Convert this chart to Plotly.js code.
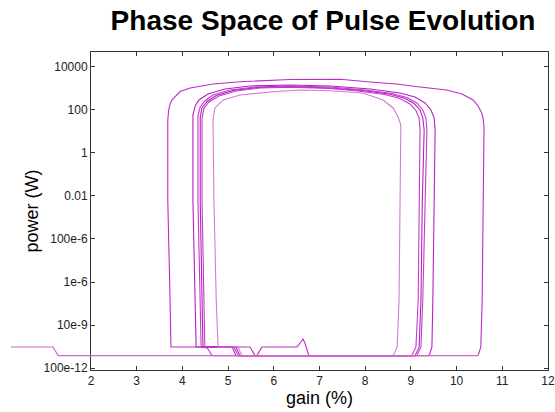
<!DOCTYPE html>
<html>
<head>
<meta charset="utf-8">
<script src="https://cdn.plot.ly/plotly-3.0.1.min.js"></script>
<style>html,body{margin:0;padding:0;background:#fff;}#chart{width:555px;height:412px;}</style>
</head>
<body>
<div id="chart"></div>
<script>
// Initial segment (starts left of the plotted gain range)
const initGain  = [0.25, 1.17, 1.28, 10.47];
const initPower = [9.6e-10, 9.6e-10, 3.8e-10, 3.8e-10];

// Cycle 1 (outermost loop)
const cycle1Gain  = [10.47, 10.53, 10.56, 10.58, 10.60, 10.58, 10.55, 10.47, 10.36, 10.12, 9.78, 9.20, 8.69, 8.11, 7.45, 6.35, 5.26, 4.67, 4.17, 3.95, 3.88, 3.77, 3.73, 3.70, 3.68, 3.68, 3.73, 3.75, 5.48, 5.59, 5.63, 5.74, 6.51, 6.64, 6.68, 6.77, 9.40];
const cycle1Power = [3.8e-10, 9.6e-10, 1.46e-7, 6.4e-3, 15.8, 41, 71, 150, 284, 540, 828, 1140, 1570, 1946, 2600, 2540, 2010, 1570, 1026, 705, 485, 284, 185, 97.5, 33, 6.4e-3, 1.46e-7, 9.6e-10, 9.6e-10, 3.8e-10, 3.8e-10, 9.6e-10, 9.6e-10, 2.25e-9, 1.47e-9, 3.8e-10, 3.8e-10];

// Cycle 2
const cycle2Gain  = [9.40, 9.46, 9.48, 9.51, 9.53, 9.51, 9.44, 9.31, 9.09, 8.76, 8.11, 7.23, 6.35, 5.48, 4.93, 4.56, 4.36, 4.28, 4.23, 4.23, 4.28, 4.30, 5.09, 5.17, 9.13];
const cycle2Power = [3.8e-10, 9.6e-10, 1.46e-7, 6.4e-3, 11.5, 41, 97.5, 206, 392, 600, 920, 1270, 1413, 1270, 920, 540, 284, 150, 57, 6.4e-3, 1.46e-7, 9.6e-10, 9.6e-10, 3.8e-10, 3.8e-10];

// Cycle 3
const cycle3Gain  = [9.13, 9.22, 9.26, 9.31, 9.35, 9.33, 9.26, 9.13, 8.91, 8.59, 8.00, 7.23, 6.35, 5.59, 5.04, 4.67, 4.49, 4.39, 4.34, 4.34, 4.39, 4.41, 5.13, 5.22, 9.09];
const cycle3Power = [3.8e-10, 9.6e-10, 1.46e-7, 6.4e-3, 11.5, 41, 97.5, 206, 371, 569, 828, 1140, 1270, 1140, 828, 485, 255, 134, 51, 6.4e-3, 1.46e-7, 9.6e-10, 9.6e-10, 3.8e-10, 3.8e-10];

// Cycle 4
const cycle4Gain  = [9.09, 9.18, 9.22, 9.25, 9.29, 9.26, 9.20, 9.07, 8.85, 8.52, 7.93, 7.23, 6.35, 5.65, 5.11, 4.74, 4.54, 4.43, 4.39, 4.39, 4.43, 4.45, 5.17, 5.26, 9.02];
const cycle4Power = [3.8e-10, 9.6e-10, 1.46e-7, 6.4e-3, 11.5, 41, 97.5, 195, 352, 540, 785, 1026, 1178, 1081, 785, 460, 242, 121, 46, 6.4e-3, 1.46e-7, 9.6e-10, 9.6e-10, 3.8e-10, 3.8e-10];

// Cycle 5
const cycle5Gain  = [9.02, 9.11, 9.16, 9.18, 9.20, 9.18, 9.11, 8.98, 8.76, 8.43, 7.84, 7.23, 6.35, 5.70, 5.17, 4.80, 4.58, 4.47, 4.43, 4.43, 4.47, 4.49, 4.56, 4.65, 8.61];
const cycle5Power = [3.8e-10, 9.6e-10, 1.46e-7, 6.4e-3, 11.5, 41, 92.5, 185, 333, 512, 743, 970, 1104, 1026, 743, 436, 229, 115, 41, 6.4e-3, 1.46e-7, 9.6e-10, 7.7e-10, 3.8e-10, 3.8e-10];

// Cycle 6 (innermost loop)
const cycle6Gain  = [8.61, 8.70, 8.74, 8.76, 8.78, 8.72, 8.61, 8.39, 7.95, 7.23, 6.57, 5.98, 5.26, 4.89, 4.71, 4.67, 4.69, 4.74, 4.78, 5.22, 5.30, 8.26];
const cycle6Power = [3.8e-10, 9.6e-10, 1.46e-7, 6.4e-3, 19.6, 46, 121, 284, 600, 767, 828, 690, 485, 284, 121, 33, 6.4e-3, 1.46e-7, 9.6e-10, 9.6e-10, 3.8e-10, 3.8e-10];

const yTickVals = [1e4, 100, 1, 0.01, 1e-4, 1e-6, 1e-8, 1e-10];
const yTickText = ['10000', '100', '1', '0.01', '100e-6', '1e-6', '10e-9', '100e-12'];
const xTickVals = [2, 3, 4, 5, 6, 7, 8, 9, 10, 11, 12];

const cycles = [
  [cycle1Gain, cycle1Power, '#bb2cc6'],
  [cycle2Gain, cycle2Power, '#b520c2'],
  [cycle3Gain, cycle3Power, '#c23ccb'],
  [cycle4Gain, cycle4Power, '#b520c2'],
  [cycle5Gain, cycle5Power, '#c23ccb'],
  [cycle6Gain, cycle6Power, '#d479d8']
];

const traces = [{
  x: initGain, y: initPower, xaxis: 'x2', yaxis: 'y',
  mode: 'lines', line: {color: '#cc66d0', width: 1.2}, showlegend: false, hoverinfo: 'skip'
}];
cycles.forEach(c => traces.push({
  x: c[0], y: c[1], xaxis: 'x', yaxis: 'y',
  mode: 'lines', line: {color: c[2], width: 1.1}, showlegend: false, hoverinfo: 'skip'
}));

// geometry: plot area from px 91 to 548 horizontally (paper from 5 to 548)
const leftMargin = 5, rightMargin = 7, plotLeft = 91;
const paperW = 555 - leftMargin - rightMargin;
const d0 = (plotLeft - leftMargin) / paperW;
const pxPerUnit = (paperW * (1 - d0)) / 10;
const x2min = 2 - (plotLeft - leftMargin) / pxPerUnit;

const axisFont = {family: 'Arial, "Liberation Sans", sans-serif', size: 12, color: '#222'};
const layout = {
  width: 555, height: 412,
  margin: {l: leftMargin, r: rightMargin, t: 52, b: 42},
  paper_bgcolor: '#fff', plot_bgcolor: 'rgba(0,0,0,0)',
  title: {text: 'Phase Space of Pulse Evolution', x: 0.582, xref: 'container', xanchor: 'center',
          y: 0.952, yref: 'container', yanchor: 'middle',
          font: {family: 'Arial, "Liberation Sans", sans-serif', size: 28, weight: 'bold', color: '#000'}},
  xaxis: {domain: [d0, 1], range: [2, 12], tickvals: xTickVals, ticks: 'inside', ticklen: 4,
          tickcolor: '#333', showline: true, linecolor: '#333', linewidth: 1, mirror: 'ticks',
          showgrid: false, zeroline: false, tickfont: axisFont, anchor: 'y',
          title: {text: 'gain (%)', font: {family: 'Arial, "Liberation Sans", sans-serif', size: 18, color: '#000'}, standoff: 1}},
  xaxis2: {domain: [0, 1], range: [x2min, 12], visible: false, anchor: 'y', fixedrange: true},
  yaxis: {type: 'log', range: [-10.087, 4.683], tickvals: yTickVals, ticktext: yTickText,
          ticks: 'inside', ticklen: 4, tickcolor: '#333', showline: true, linecolor: '#333', linewidth: 1,
          mirror: 'ticks', showgrid: false, zeroline: false, tickfont: axisFont, anchor: 'x',
          title: {text: 'power (W)', font: {family: 'Arial, "Liberation Sans", sans-serif', size: 18, color: '#000'}, standoff: 0}},
  showlegend: false
};

Plotly.newPlot('chart', traces, layout, {staticPlot: true, displayModeBar: false});
</script>
</body>
</html>
